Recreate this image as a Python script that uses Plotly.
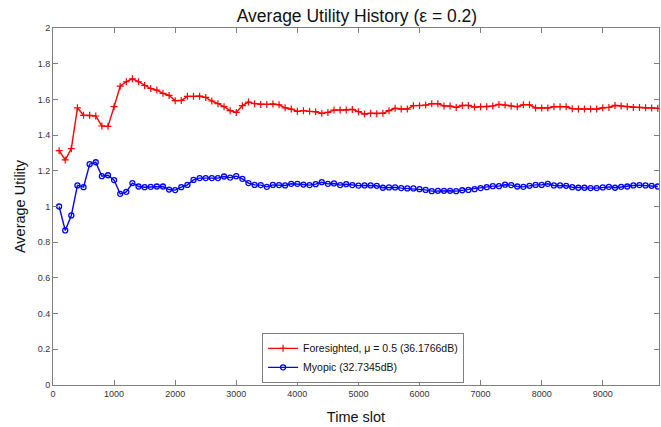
import plotly.graph_objects as go

time_slots = list(range(100, 10000, 100))

foresighted = [
    1.313, 1.261, 1.324, 1.553, 1.511, 1.511, 1.507, 1.451, 1.449, 1.559,
    1.674, 1.699, 1.715, 1.699, 1.678, 1.661, 1.652, 1.634, 1.622, 1.593,
    1.594, 1.617, 1.617, 1.618, 1.611, 1.591, 1.576, 1.559, 1.537, 1.527,
    1.565, 1.585, 1.576, 1.572, 1.572, 1.574, 1.570, 1.553, 1.546, 1.533,
    1.537, 1.533, 1.531, 1.522, 1.527, 1.540, 1.540, 1.540, 1.544, 1.531,
    1.518, 1.522, 1.520, 1.522, 1.537, 1.550, 1.546, 1.546, 1.565, 1.565,
    1.568, 1.576, 1.576, 1.563, 1.563, 1.555, 1.566, 1.566, 1.557, 1.559,
    1.559, 1.563, 1.572, 1.568, 1.563, 1.559, 1.570, 1.570, 1.552, 1.552,
    1.552, 1.559, 1.559, 1.559, 1.548, 1.546, 1.546, 1.546, 1.546, 1.553,
    1.555, 1.566, 1.563, 1.559, 1.555, 1.555, 1.553, 1.552, 1.550,
]

myopic = [
    1.000, 0.866, 0.950, 1.118, 1.108, 1.237, 1.248, 1.170, 1.175, 1.148,
    1.071, 1.082, 1.131, 1.112, 1.108, 1.110, 1.112, 1.112, 1.095, 1.092,
    1.108, 1.121, 1.149, 1.159, 1.159, 1.159, 1.159, 1.168, 1.162, 1.170,
    1.155, 1.131, 1.121, 1.120, 1.110, 1.121, 1.120, 1.118, 1.127, 1.127,
    1.123, 1.120, 1.125, 1.136, 1.127, 1.129, 1.120, 1.125, 1.120, 1.117,
    1.118, 1.118, 1.116, 1.105, 1.107, 1.107, 1.103, 1.101, 1.101, 1.097,
    1.093, 1.086, 1.088, 1.088, 1.088, 1.086, 1.091, 1.093, 1.097, 1.103,
    1.108, 1.114, 1.114, 1.122, 1.120, 1.112, 1.110, 1.116, 1.121, 1.121,
    1.127, 1.118, 1.118, 1.116, 1.108, 1.105, 1.105, 1.103, 1.103, 1.107,
    1.110, 1.105, 1.110, 1.112, 1.118, 1.120, 1.118, 1.116, 1.112,
]

x_tick_vals = [0, 1000, 2000, 3000, 4000, 5000, 6000, 7000, 8000, 9000]
x_tick_text = ["0", "1000", "2000", "3000", "4000", "5000", "6000", "7000", "8000", "9000"]
y_tick_vals = [0, 0.2, 0.4, 0.6, 0.8, 1.0, 1.2, 1.4, 1.6, 1.8, 2.0]
y_tick_text = ["0", "0.2", "0.4", "0.6", "0.8", "1", "1.2", "1.4", "1.6", "1.8", "2"]

FONT = "Liberation Sans, Arial, sans-serif"

fig = go.Figure()
fig.add_trace(go.Scatter(
    x=time_slots, y=foresighted, mode="lines+markers",
    name="Foresighted, \u03bc = 0.5 (36.1766dB)",
    line=dict(color="#ff0000", width=1.4),
    marker=dict(symbol="cross-thin", size=5, line=dict(color="#ff0000", width=1.2)),
))
fig.add_trace(go.Scatter(
    x=time_slots, y=myopic, mode="lines+markers",
    name="Myopic (32.7345dB)",
    line=dict(color="#0000ff", width=1.4),
    marker=dict(symbol="circle-open", size=5, color="#0000ff", line=dict(color="#0000ff", width=1.3)),
))

axis_common = dict(
    showline=True, linecolor="#7f7f7f", linewidth=1, mirror="ticks",
    ticks="inside", ticklen=5, tickcolor="#7f7f7f", showgrid=False, zeroline=False,
    tickfont=dict(family=FONT, size=9, color="#333333"),
)

fig.update_layout(
    width=661, height=427,
    margin=dict(l=53, r=2, t=28, b=42),
    paper_bgcolor="white", plot_bgcolor="white",
    title=dict(text="Average Utility History (\u03b5 = 0.2)", x=0.54, xanchor="center",
               y=0.963, yanchor="middle", font=dict(family=FONT, size=17.5, color="#111111")),
    xaxis=dict(range=[0, 9920], tickvals=x_tick_vals, ticktext=x_tick_text,
               title=dict(text="Time slot", font=dict(family=FONT, size=14.5, color="#111111"), standoff=14),
               **axis_common),
    yaxis=dict(range=[0, 2], tickvals=y_tick_vals, ticktext=y_tick_text,
               title=dict(text="Average Utility", font=dict(family=FONT, size=14.5, color="#111111"), standoff=8),
               **axis_common),
    legend=dict(x=0.345, y=0.006, xanchor="left", yanchor="bottom",
                bgcolor="white", bordercolor="#7f7f7f", borderwidth=1,
                font=dict(family=FONT, size=10.5, color="#111111"),
                itemwidth=30, tracegroupgap=0),
    showlegend=True,
)

fig.write_html("out.html")
